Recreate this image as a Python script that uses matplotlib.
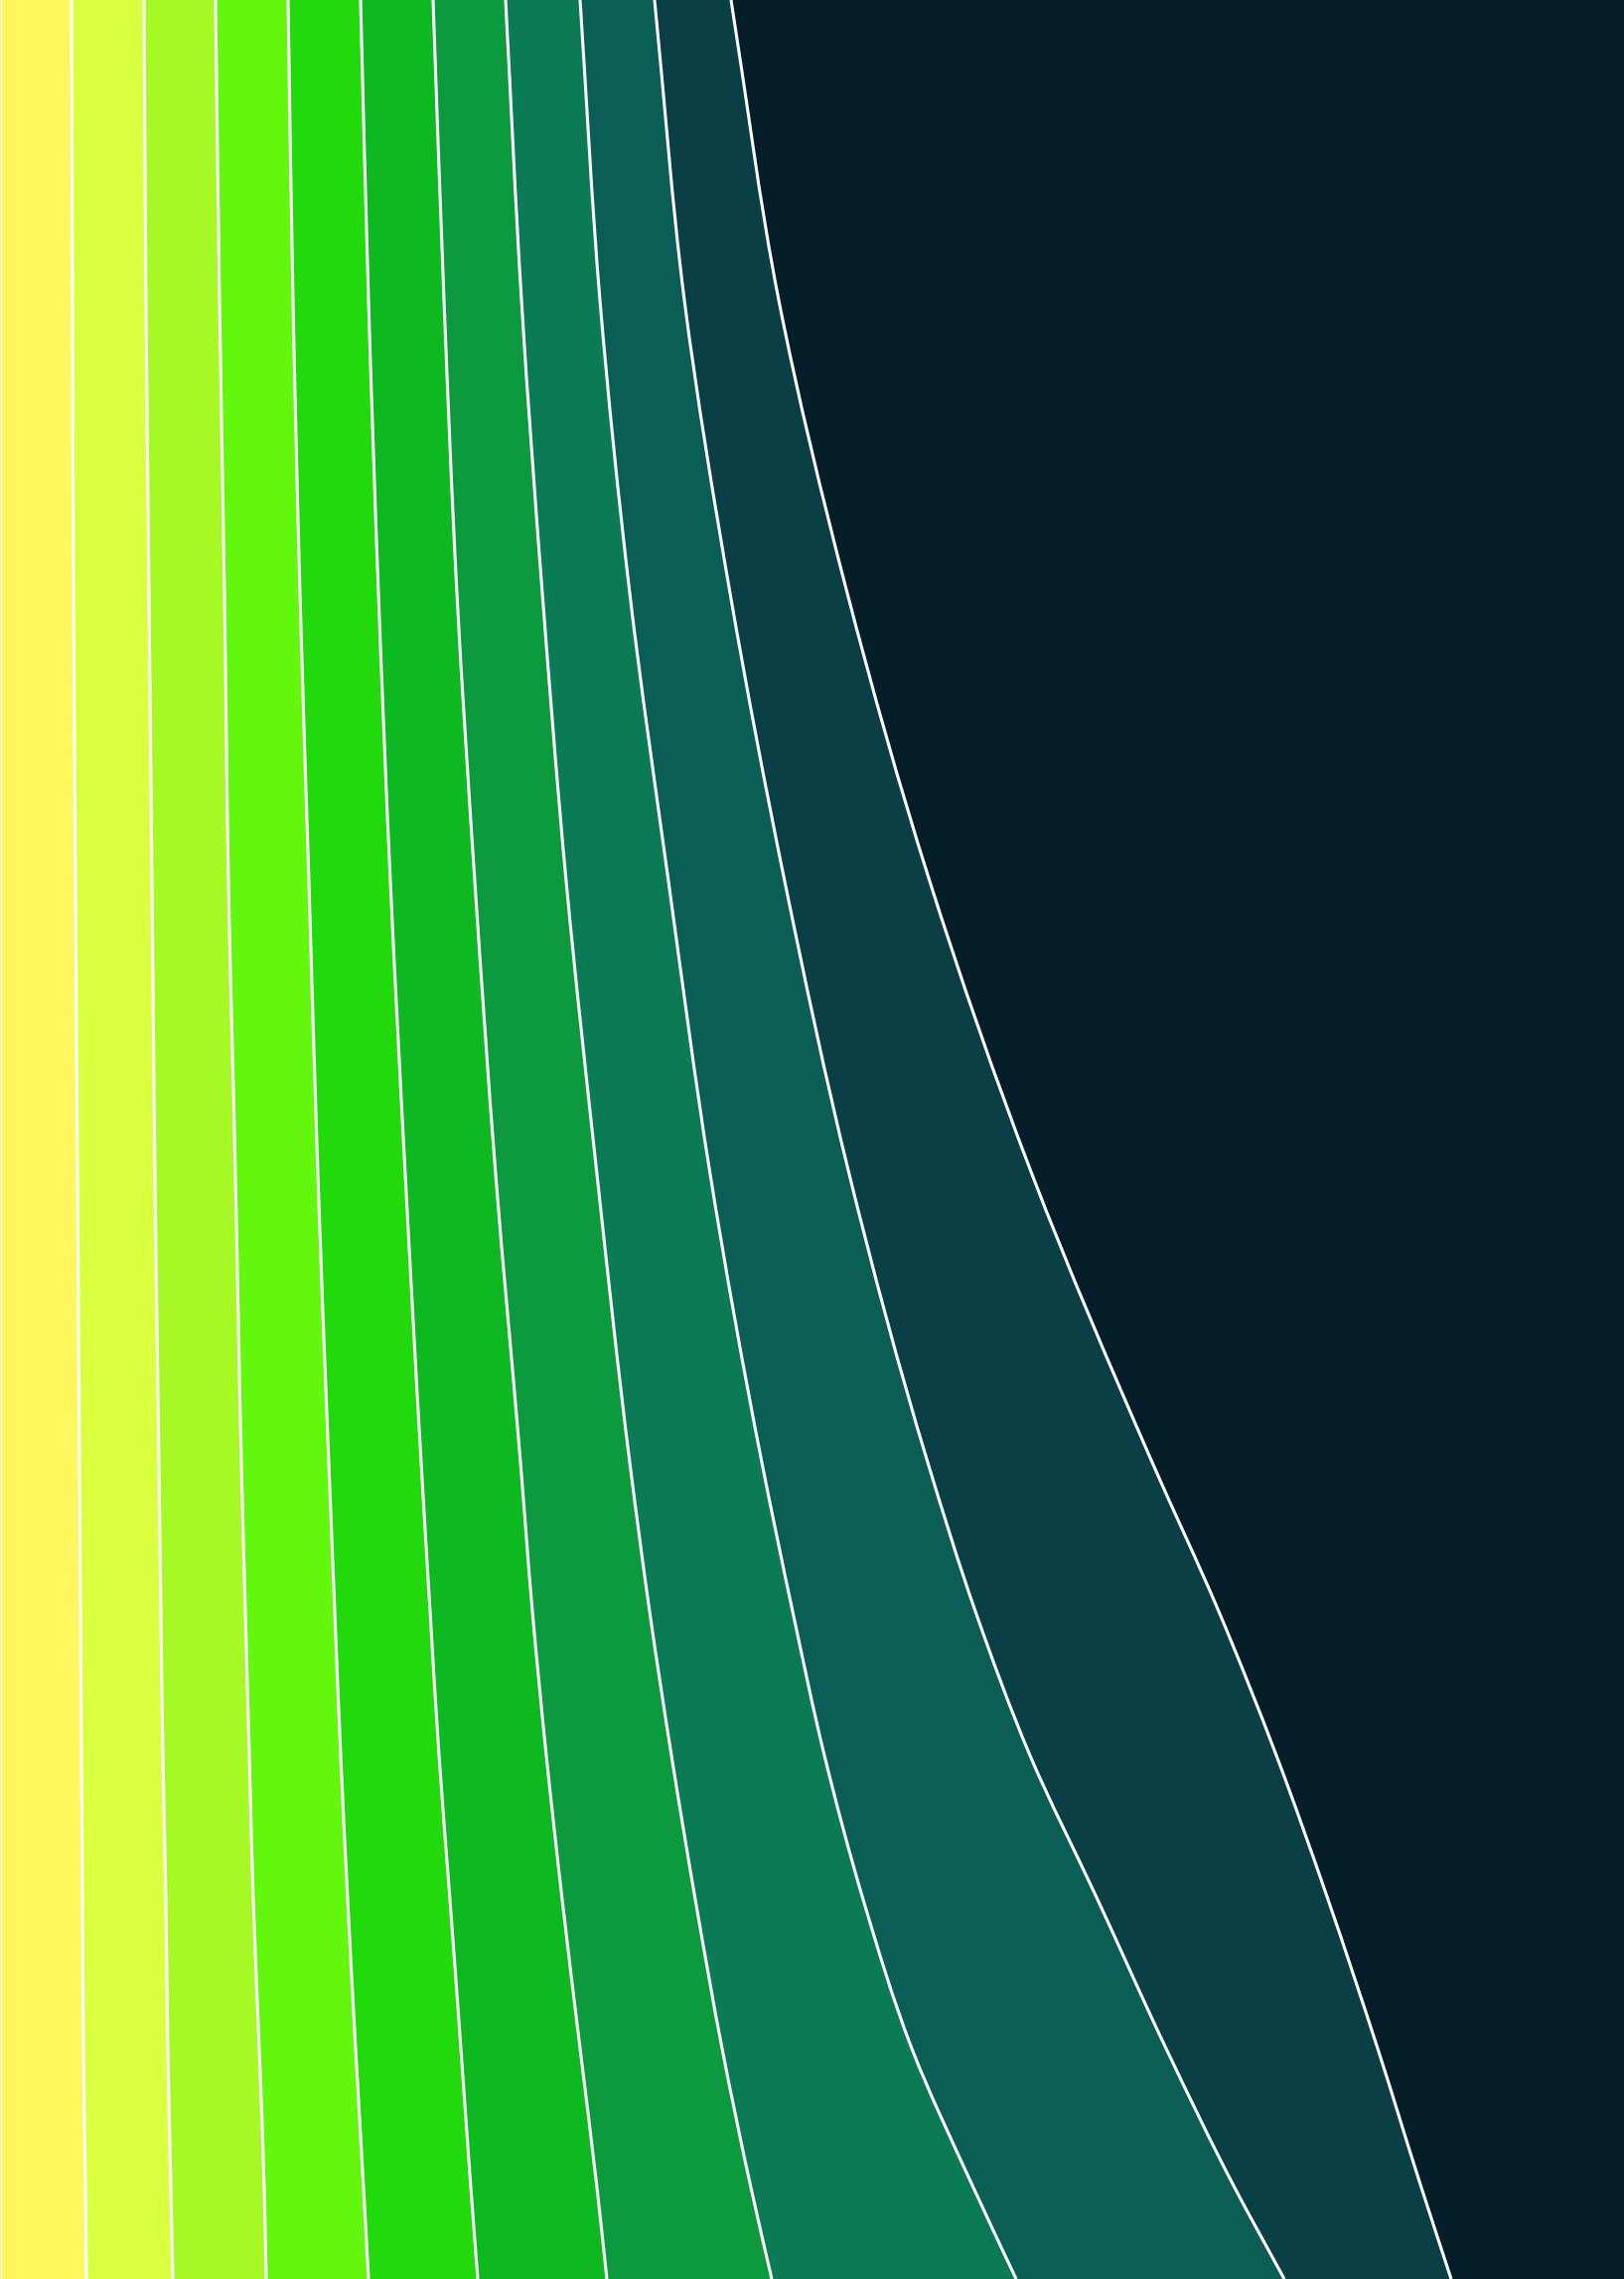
import numpy as np
import matplotlib
matplotlib.use("Agg")
import matplotlib.pyplot as plt
from matplotlib.path import Path
from matplotlib.patches import PathPatch

# vertical sample positions (pixels from top)
depth = [0, 302, 597, 887, 1182, 1472, 1622, 1767, 1912, 2062, 2202, 2294]

# right edge of each stacked band at every depth
edge_1 = [72, 73, 74, 76, 78, 80, 81, 82, 83, 84, 86, 87]
edge_2 = [145, 147, 150, 153, 156, 160, 162, 164, 167, 169, 172, 174]
edge_3 = [217, 221, 226, 230, 237, 243, 247, 251, 255, 261, 266, 268]
edge_4 = [290, 295, 302, 311, 320, 331, 337, 343, 350, 358, 366, 371]
edge_5 = [363, 371, 381, 393, 408, 424, 433, 442, 453, 464, 474, 481]
edge_6 = [436, 447, 460, 478, 499, 524, 536, 550, 566, 584, 601, 611]
edge_7 = [509, 525, 546, 570, 601, 634, 654, 676, 700, 727, 756, 777]
edge_8 = [584, 604, 634, 673, 715, 767, 798, 830, 869, 918, 980, 1023]
edge_9 = [659, 689, 735, 790, 855, 934, 982, 1037, 1105, 1174, 1243, 1293]
edge_10 = [736, 784, 853, 936, 1039, 1160, 1227, 1285, 1337, 1387, 1431, 1461]

band_colors = ["#FFF75E", "#DAFF3F", "#A6F925", "#62F70C", "#22D90C",
               "#0DB821", "#0D9A3F", "#0B7B55", "#0B5E55", "#093F45"]
bg_color = "#061D2A"


def curve_verts(xs, ys):
    """cubic hermite path in y, like a smoothed area edge"""
    xs = np.asarray(xs, float)
    ys = np.asarray(ys, float)
    slope = np.gradient(xs, ys)
    verts = [(xs[0], ys[0])]
    for i in range(len(xs) - 1):
        h = ys[i + 1] - ys[i]
        verts.append((xs[i] + slope[i] * h / 3, ys[i] + h / 3))
        verts.append((xs[i + 1] - slope[i + 1] * h / 3, ys[i + 1] - h / 3))
        verts.append((xs[i + 1], ys[i + 1]))
    return verts


def curve_codes(n):
    return [Path.MOVETO] + [Path.CURVE4] * (n - 1)


W, H = 1635, 2294
fig = plt.figure(figsize=(W / 100, H / 100), dpi=100)
ax = fig.add_axes([0, 0, 1, 1])
ax.set_facecolor(bg_color)

edges = [edge_1, edge_2, edge_3, edge_4, edge_5, edge_6, edge_7, edge_8, edge_9, edge_10]
left = [0] * len(depth)
for e, c in zip(edges, band_colors):
    rv = curve_verts(e, depth)
    lv = curve_verts(left, depth)[::-1]
    verts = rv + lv + [rv[0]]
    codes = curve_codes(len(rv)) + [Path.LINETO] + [Path.CURVE4] * (len(lv) - 1) + [Path.CLOSEPOLY]
    ax.add_patch(PathPatch(Path(verts, codes), facecolor=c, edgecolor=c, lw=0.5))
    left = e

for e in edges:
    v = curve_verts(e, depth)
    ax.add_patch(PathPatch(Path(v, curve_codes(len(v))), fill=False,
                           edgecolor="white", lw=2.2))
ax.axvline(0.5, color="#f4f4f4", lw=1.0)

ax.set_xlim(0, W)
ax.set_ylim(H, 0)
ax.axis("off")
fig.savefig("out.png", dpi=100, facecolor=bg_color)
